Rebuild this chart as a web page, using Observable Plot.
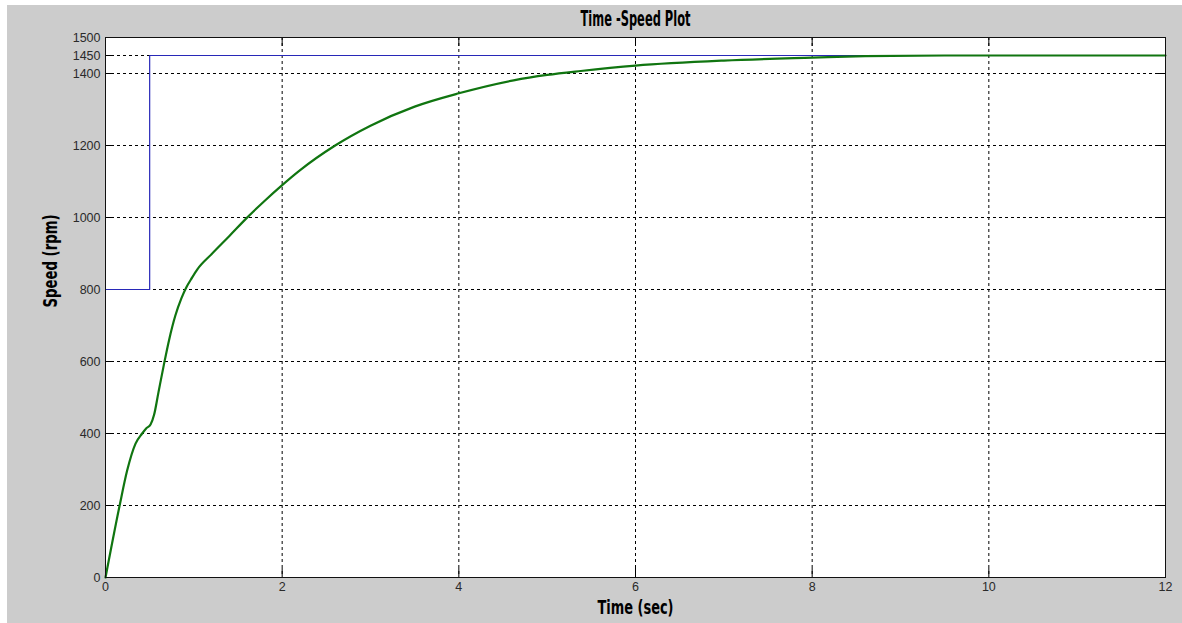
<!DOCTYPE html>
<html>
<head>
<meta charset="utf-8">
<script src="https://cdn.jsdelivr.net/npm/d3@7"></script>
<script src="https://cdn.jsdelivr.net/npm/@observablehq/plot@0.6"></script>
<style>
  html, body { margin: 0; padding: 0; background: #ffffff; }
  #wrap { position: absolute; left: 7px; top: 5px; width: 1175px; height: 618px; background: #cccccc; }
</style>
</head>
<body>
<div id="wrap"></div>
<script>
// Measured speed response (green)
const time  = [0, 0.16, 0.245, 0.34, 0.415, 0.46, 0.51, 0.55, 0.6, 0.66, 0.72, 0.79, 0.86, 0.913, 0.98, 1.04, 1.2, 1.4, 1.6, 1.8, 2.0, 2.2, 2.6, 3.0, 3.5, 4.0, 4.62, 5.0, 5.38, 6.0, 7.0, 8.0, 8.6, 9.5, 10, 12];
const speed = [0, 200, 297, 372, 400, 414, 425, 452, 515, 590, 660, 727, 776, 805, 833, 856, 898, 948, 999, 1046, 1090, 1131, 1200, 1255, 1308, 1345, 1381, 1396, 1407, 1422, 1436, 1444, 1448, 1450, 1450, 1450];
// Reference speed (blue step)
const refTime  = [0, 0.5, 12];
const refSpeed = [800, 1450, 1450];
// Ticks
const xTicks = [0, 2, 4, 6, 8, 10, 12];
const yTicks = [0, 200, 400, 600, 800, 1000, 1200, 1400, 1450, 1500];
const xGrid = [2, 4, 6, 8, 10];
const yGrid = [200, 400, 600, 800, 1000, 1200, 1400, 1450];

const titleText = "Time -Speed Plot";
const xLabel = "Time (sec)";
const yLabel = "Speed (rpm)";

const response = time.map((t, i) => ({t, v: speed[i]}));
const reference = refTime.map((t, i) => ({t, v: refSpeed[i]}));

const W = 1175, H = 618;
const mL = 98, mT = 32, mR = 17, mB = 46;
const pw = W - mL - mR, ph = H - mT - mB;
const tk = 9;
const condFont = "'DejaVu Sans Condensed', 'DejaVu Sans', sans-serif";
const numFont = "'Liberation Sans', Arial, sans-serif";

const chart = Plot.plot({
  width: W,
  height: H,
  marginLeft: mL, marginTop: mT, marginRight: mR, marginBottom: mB,
  style: {background: "#cccccc", fontFamily: numFont, fontSize: "12px", color: "#333"},
  x: {domain: [0, 12]},
  y: {domain: [0, 1500]},
  marks: [
    Plot.frame({fill: "white"}),
    Plot.gridX(xGrid, {stroke: "black", strokeOpacity: 1, strokeDasharray: "3,3"}),
    Plot.gridY(yGrid, {stroke: "black", strokeOpacity: 1, strokeDasharray: "3,3"}),
    // inward ticks on all four sides
    Plot.tickY(yTicks, {y: d => d, stroke: "black", insetRight: pw - tk}),
    Plot.tickY(yTicks, {y: d => d, stroke: "black", insetLeft: pw - tk}),
    Plot.tickX(xTicks, {x: d => d, stroke: "black", insetTop: ph - tk}),
    Plot.tickX(xTicks, {x: d => d, stroke: "black", insetBottom: ph - tk}),
    Plot.axisX(xTicks, {tickSize: 0, tickPadding: 5, label: null, fill: "#2a2a2a", fontSize: 12.5, fontFamily: numFont, tickFormat: d => String(d)}),
    Plot.axisY(yTicks, {tickSize: 0, tickPadding: 5, label: null, fill: "#2a2a2a", fontSize: 12.5, fontFamily: numFont, tickFormat: d => String(d)}),
    Plot.line(reference, {x: "t", y: "v", curve: "step-after", stroke: "#2828b8", strokeWidth: 1.2}),
    Plot.line(response, {x: "t", y: "v", curve: "monotone-x", stroke: "#107510", strokeWidth: 2.2}),
    Plot.frame({stroke: "#111", strokeWidth: 1}),
    Plot.text([titleText], {text: d => d, frameAnchor: "top", dy: -19, lineAnchor: "middle", fontFamily: condFont, fontWeight: "bold", fontSize: 22, fill: "black"}),
    Plot.text([xLabel], {text: d => d, frameAnchor: "bottom", dy: 30, lineAnchor: "middle", fontFamily: condFont, fontWeight: "bold", fontSize: 19, fill: "black"}),
    Plot.text([yLabel], {text: d => d, frameAnchor: "left", dx: -55, rotate: -90, lineAnchor: "middle", fontFamily: condFont, fontWeight: "bold", fontSize: 20, fill: "black"})
  ]
});

const sel = d3.select(chart);
const squeeze = (label, len) => sel.selectAll("text")
  .filter(function() { return this.textContent === label; })
  .attr("textLength", len).attr("lengthAdjust", "spacingAndGlyphs");
squeeze(titleText, 110);
squeeze(xLabel, 76);
squeeze(yLabel, 93);

document.getElementById("wrap").appendChild(chart);
</script>
</body>
</html>
